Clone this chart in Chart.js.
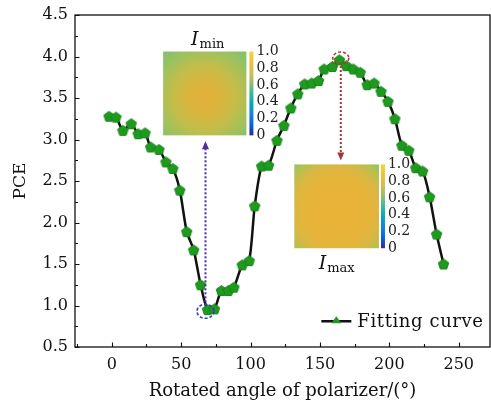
<!DOCTYPE html>
<html>
<head>
<meta charset="utf-8">
<script src="https://cdn.jsdelivr.net/npm/chart.js@4.4.1/dist/chart.umd.min.js"></script>
<style>
  html, body { margin: 0; padding: 0; background: #fff; }
  #wrap { width: 491px; height: 407px; }
</style>
</head>
<body>
<div id="wrap"><canvas id="pce"></canvas></div>
<script>
// rotated angle (deg) and PCE
const angle = [-2, 3, 8, 14, 19, 24, 28, 34, 39, 44, 49, 54, 59, 64, 69, 74, 79, 84, 88, 94,
  99, 103, 108, 113, 119, 124, 129, 134, 139, 144, 149, 153, 159, 164, 169, 174, 179, 184, 189, 194,
  199, 204, 209, 214, 219, 224, 229, 234, 239];
const pce = [3.28, 3.27, 3.11, 3.19, 3.07, 3.08, 2.91, 2.88, 2.73, 2.65, 2.39, 1.89, 1.67, 1.25, 0.95, 0.96, 1.18, 1.18, 1.22, 1.49,
  1.54, 2.20, 2.68, 2.69, 2.99, 3.17, 3.38, 3.55, 3.67, 3.68, 3.71, 3.85, 3.88, 3.96, 3.89, 3.85, 3.81, 3.66, 3.68, 3.58,
  3.46, 3.25, 2.93, 2.87, 2.66, 2.62, 2.31, 1.86, 1.50];
const seriesName = "Fitting curve";
const xTicks = [0, 50, 100, 150, 200, 250];
const yTicks = [0.5, 1.0, 1.5, 2.0, 2.5, 3.0, 3.5, 4.0, 4.5];
const colorbarLabels = ["1.0", "0.8", "0.6", "0.4", "0.2", "0"];

const serif = "'DejaVu Serif', serif";
const green = "#1f9a1f";

// pentagon marker
function pentagon(r, fill) {
  const c = document.createElement("canvas");
  const s = Math.ceil(r * 2 + 2);
  c.width = s; c.height = s;
  const g = c.getContext("2d");
  g.beginPath();
  for (let i = 0; i < 5; i++) {
    const a = -Math.PI / 2 + i * 2 * Math.PI / 5;
    const px = s / 2 + r * Math.cos(a), py = s / 2 + r * Math.sin(a) + 0.5;
    if (i === 0) g.moveTo(px, py); else g.lineTo(px, py);
  }
  g.closePath();
  g.fillStyle = fill;
  g.fill();
  g.strokeStyle = "#178417";
  g.lineWidth = 1;
  g.stroke();
  return c;
}

const parula = [
  [0, "#352a87"], [0.125, "#0363e1"], [0.25, "#1485d4"], [0.375, "#06a4c0"],
  [0.5, "#38b99e"], [0.625, "#92bf73"], [0.75, "#d9ba56"], [0.875, "#f0c03e"], [1, "#ecd63a"]
];

function heatmap(ctx, x0, y0, x1, y1, stops) {
  const cx = (x0 + x1) / 2, cy = (y0 + y1) / 2 + 4;
  const w = x1 - x0;
  ctx.save();
  const g = ctx.createRadialGradient(cx, cy, 0, cx, cy, w * 0.72);
  stops.forEach(s => g.addColorStop(s[0], s[1]));
  ctx.fillStyle = g;
  ctx.fillRect(x0, y0, w, y1 - y0);
  ctx.restore();
}

function colorbar(ctx, x, y0, y1) {
  ctx.save();
  const g = ctx.createLinearGradient(0, y1, 0, y0);
  parula.forEach(s => g.addColorStop(s[0], s[1]));
  ctx.fillStyle = g;
  ctx.fillRect(x, y0, 4, y1 - y0);
  ctx.fillStyle = "#222";
  ctx.font = "14px " + serif;
  ctx.textAlign = "left";
  ctx.textBaseline = "middle";
  colorbarLabels.forEach((t, i) => {
    ctx.fillText(t, x + 7, y0 + (y1 - y0) * i / (colorbarLabels.length - 1));
  });
  ctx.restore();
}

function intensityLabel(ctx, x, y, sub) {
  ctx.save();
  ctx.fillStyle = "#111";
  ctx.textBaseline = "alphabetic";
  ctx.font = "italic 19px " + serif;
  const w = ctx.measureText("I").width;
  const subFont = "13px " + serif;
  ctx.font = subFont;
  const ws = ctx.measureText(sub).width;
  const start = x - (w + ws + 1) / 2;
  ctx.font = "italic 19px " + serif;
  ctx.fillText("I", start, y);
  ctx.font = subFont;
  ctx.fillText(sub, start + w + 1, y + 3);
  ctx.restore();
}

function arrow(ctx, x, yFrom, yTo, color) {
  ctx.save();
  ctx.strokeStyle = color;
  ctx.fillStyle = color;
  ctx.lineWidth = 2;
  ctx.setLineDash([2, 2]);
  ctx.beginPath();
  ctx.moveTo(x, yFrom);
  const dir = yTo > yFrom ? 1 : -1;
  ctx.lineTo(x, yTo - dir * 6);
  ctx.stroke();
  ctx.setLineDash([]);
  ctx.beginPath();
  ctx.moveTo(x, yTo);
  ctx.lineTo(x - 3.5, yTo - dir * 8);
  ctx.lineTo(x + 3.5, yTo - dir * 8);
  ctx.closePath();
  ctx.fill();
  ctx.restore();
}

function ellipse(ctx, x, y, rx, ry, color) {
  ctx.save();
  ctx.strokeStyle = color;
  ctx.lineWidth = 1.6;
  ctx.setLineDash([3, 2]);
  ctx.beginPath();
  ctx.ellipse(x, y, rx, ry, 0, 0, Math.PI * 2);
  ctx.stroke();
  ctx.restore();
}

const decor = {
  id: "decor",
  afterDraw(chart) {
    const { ctx, chartArea: a, scales: { x, y } } = chart;
    ctx.save();
    // frame
    ctx.strokeStyle = "#111";
    ctx.lineWidth = 1.3;
    ctx.strokeRect(a.left, a.top, a.right - a.left, a.bottom - a.top);
    // inward ticks on bottom and left
    ctx.lineWidth = 1.1;
    ctx.beginPath();
    for (let v = -25; v <= x.max; v += 25) {
      if (v < x.min) continue;
      const px = Math.round(x.getPixelForValue(v)) + 0.5;
      const len = v % 50 === 0 ? 4.5 : 3;
      ctx.moveTo(px, a.bottom); ctx.lineTo(px, a.bottom - len);
    }
    for (let v = 0.5; v <= y.max; v += 0.25) {
      const py = Math.round(y.getPixelForValue(v)) + 0.5;
      const len = Math.abs(v * 2 - Math.round(v * 2)) < 1e-6 ? 4.5 : 3;
      ctx.moveTo(a.left, py); ctx.lineTo(a.left + len, py);
    }
    ctx.stroke();
    ctx.restore();

    // insets
    const mx0 = x.getPixelForValue(37), mx1 = x.getPixelForValue(97);
    const my0 = y.getPixelForValue(4.06), my1 = y.getPixelForValue(3.05);
    heatmap(ctx, mx0, my0, mx1, my1,
      [[0, "#e2b23a"], [0.25, "#dcb43c"], [0.55, "#c2bd4a"], [0.8, "#9cc25e"], [1, "#84c06e"]]);
    colorbar(ctx, mx1 + 3, my0, my1);
    intensityLabel(ctx, (mx0 + mx1) / 2 + 3, my0 - 7, "min");

    const Mx0 = x.getPixelForValue(131.5), Mx1 = x.getPixelForValue(192.5);
    const My0 = y.getPixelForValue(2.70), My1 = y.getPixelForValue(1.69);
    heatmap(ctx, Mx0, My0, Mx1, My1,
      [[0, "#e9b236"], [0.55, "#e6b43a"], [0.75, "#d6b844"], [0.9, "#b4c052"], [1, "#9cc25c"]]);
    colorbar(ctx, Mx1 + 2, My0, My1);
    intensityLabel(ctx, (Mx0 + Mx1) / 2, My1 + 21, "max");

    // arrows and circles at the extrema
    const minX = x.getPixelForValue(67.5), minY = y.getPixelForValue(0.93);
    ellipse(ctx, minX, minY, 8.5, 7, "#3a3ab0");
    arrow(ctx, minX, minY - 9, my1 + 6, "#4b2ea0");
    const maxX = x.getPixelForValue(165), maxY = y.getPixelForValue(3.97);
    ellipse(ctx, maxX, maxY - 1, 8, 6, "#c03030");
    arrow(ctx, maxX, maxY + 7, My0 - 4, "#a8333a");

    // legend
    const lx = x.getPixelForValue(151), ly = y.getPixelForValue(0.81);
    ctx.save();
    ctx.strokeStyle = "#111";
    ctx.lineWidth = 2.5;
    ctx.beginPath();
    ctx.moveTo(lx, ly); ctx.lineTo(lx + 30, ly);
    ctx.stroke();
    ctx.fillStyle = green;
    ctx.beginPath();
    ctx.moveTo(lx + 15, ly - 5);
    ctx.lineTo(lx + 20, ly + 2);
    ctx.lineTo(lx + 10, ly + 2);
    ctx.closePath();
    ctx.fill();
    ctx.fillStyle = "#111";
    ctx.font = "18px " + serif;
    ctx.letterSpacing = "0.6px";
    ctx.textBaseline = "middle";
    ctx.fillText(seriesName, lx + 36, ly + 1);
    ctx.restore();
  }
};

const asTicks = vals => s => { s.ticks = vals.map(v => ({ value: v })); };

new Chart(document.getElementById("pce"), {
  type: "line",
  data: {
    datasets: [{
      label: seriesName,
      data: angle.map((a, i) => ({ x: a, y: pce[i] })),
      borderColor: "#111",
      borderWidth: 2.5,
      tension: 0.25,
      pointStyle: pentagon(5.5, green),
      pointRadius: 5.5,
      pointBackgroundColor: green,
      pointBorderColor: green
    }]
  },
  options: {
    responsive: true,
    maintainAspectRatio: false,
    animation: false,
    layout: { autoPadding: false, padding: { top: 15, right: 1, left: 0, bottom: 0 } },
    plugins: { legend: { display: false }, tooltip: { enabled: false } },
    scales: {
      x: {
        type: "linear",
        min: -26.5,
        max: 272.5,
        afterBuildTicks: asTicks(xTicks),
        afterFit: s => { s.height = 60; s.paddingLeft = 0; s.paddingRight = 0; },
        grid: { display: false, drawTicks: false },
        border: { display: false },
        ticks: {
          padding: 8,
          color: "#111",
          font: { family: serif, size: 16 }
        },
        title: {
          display: true,
          text: "Rotated angle of polarizer/(°)",
          color: "#111",
          font: { family: serif, size: 18 },
          padding: { top: 3, bottom: 5 }
        }
      },
      y: {
        min: 0.5,
        max: 4.5,
        afterBuildTicks: asTicks(yTicks),
        afterFit: s => { s.width = 75; s.paddingTop = 0; s.paddingBottom = 0; },
        grid: { display: false, drawTicks: false },
        border: { display: false },
        ticks: {
          padding: 7,
          color: "#111",
          font: { family: serif, size: 16 },
          callback: v => v.toFixed(1)
        },
        title: {
          display: true,
          text: "PCE",
          color: "#111",
          font: { family: serif, size: 17 },
          padding: { top: 10, bottom: 0 }
        }
      }
    }
  },
  plugins: [decor]
});
</script>
</body>
</html>
